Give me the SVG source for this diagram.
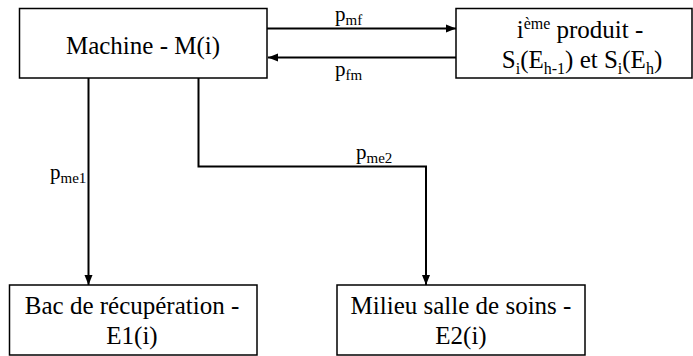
<svg xmlns="http://www.w3.org/2000/svg" width="693" height="356" viewBox="0 0 693 356">
<style>
  .box { fill: #fff; stroke: #000; stroke-width: 1.5; }
  text { font-family: "Liberation Serif", "DejaVu Serif", "Noto Serif", "Times New Roman", Times, serif; }
  .t { font-size: 25px; fill: #000; text-anchor: middle; }
  .l { font-size: 21px; fill: #000; }
  .sub { font-size: 15px; }
  .ln { fill: none; stroke: #000; stroke-width: 2; }
</style>
<defs>
  <marker id="ah" viewBox="0 0 10 10" refX="10" refY="5" markerWidth="10" markerHeight="10" markerUnits="userSpaceOnUse" orient="auto">
    <path d="M0,1 L10,5 L0,9 Z" fill="#000"/>
  </marker>
</defs>
<rect width="693" height="356" fill="#fff"/>
<g id="connectors">
  <line class="ln" x1="267" y1="28.5" x2="456" y2="28.5" marker-end="url(#ah)"/>
  <line class="ln" x1="456" y1="57.5" x2="268" y2="57.5" marker-end="url(#ah)"/>
  <line class="ln" x1="88.5" y1="78" x2="88.5" y2="285" marker-end="url(#ah)"/>
  <polyline class="ln" points="198.5,78 198.5,166.5 426,166.5 426,285" marker-end="url(#ah)"/>
  <text class="l" x="335" y="21">p<tspan class="sub" dy="4">mf</tspan></text>
  <text class="l" x="335" y="76">p<tspan class="sub" dy="4">fm</tspan></text>
  <text class="l" x="50" y="179">p<tspan class="sub" dy="4">me1</tspan></text>
  <text class="l" x="356" y="159">p<tspan class="sub" dy="4">me2</tspan></text>
</g>
<g id="machine">
  <rect class="box" x="19.5" y="8.5" width="247.5" height="69.5"/>
  <text class="t" x="143" y="54">Machine - M(i)</text>
</g>
<g id="produit">
  <rect class="box" x="456" y="8.5" width="236" height="69.5"/>
  <text class="t" x="580" y="38">i<tspan font-size="16" dy="-9">ème</tspan><tspan dy="9"> produit -</tspan></text>
  <text class="t" x="582" y="68">S<tspan font-size="16" dy="6">i</tspan><tspan dy="-6">(E</tspan><tspan font-size="16" dy="6">h-1</tspan><tspan dy="-6">) et S</tspan><tspan font-size="16" dy="6">i</tspan><tspan dy="-6">(E</tspan><tspan font-size="16" dy="6">h</tspan><tspan dy="-6">)</tspan></text>
</g>
<g id="bac">
  <rect class="box" x="9.5" y="285" width="247.5" height="70"/>
  <text class="t" x="132" y="314">Bac de récupération -</text>
  <text class="t" x="132" y="344">E1(i)</text>
</g>
<g id="milieu">
  <rect class="box" x="337" y="285" width="248" height="70"/>
  <text class="t" x="461" y="314">Milieu salle de soins -</text>
  <text class="t" x="461" y="344">E2(i)</text>
</g>
</svg>
